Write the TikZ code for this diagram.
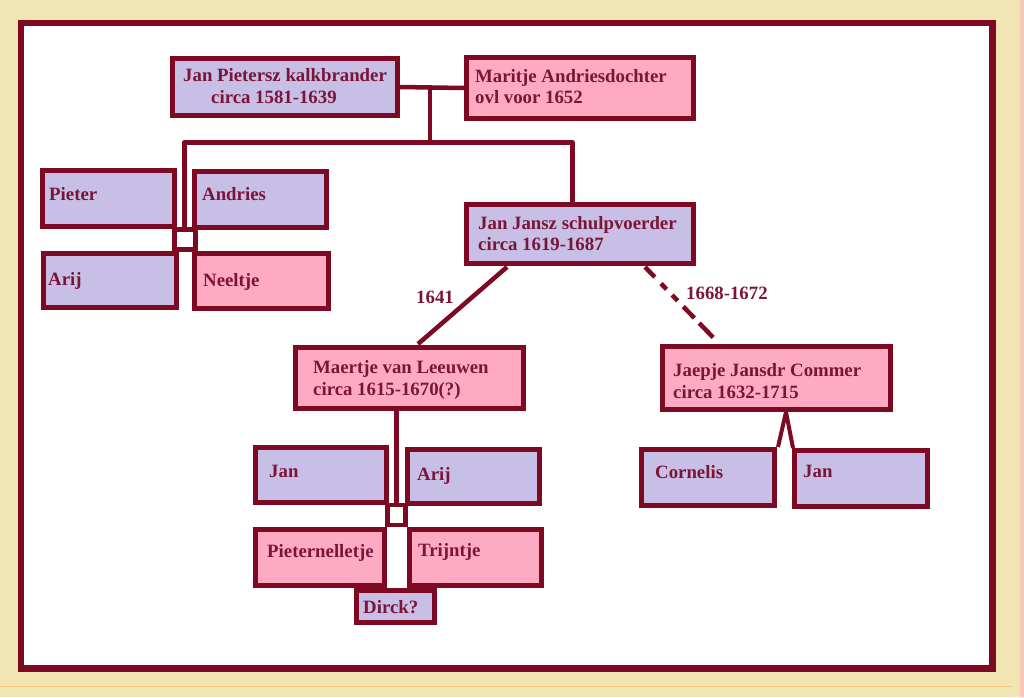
\documentclass[tikz,border=0pt]{standalone}
\usepackage{fontspec}
\setmainfont{Liberation Serif}
\definecolor{cream}{HTML}{F1E5B3}
\definecolor{framec}{HTML}{7D0922}
\definecolor{lav}{HTML}{C7BFE5}
\definecolor{pnk}{HTML}{FFAAC3}
\definecolor{txt}{HTML}{7A1537}
\begin{document}
\begin{tikzpicture}[x=1pt,y=-1pt,
  box/.style={draw=framec, line width=5pt, inner sep=0pt},
  lavbox/.style={box, fill=lav},
  pinkbox/.style={box, fill=pnk},
  sqbox/.style={draw=framec, line width=4.5pt, inner sep=0pt, fill=white},
  lbl/.style={anchor=base west, inner sep=0pt, text=txt, font=\fontsize{18.8}{22}\selectfont\bfseries},
  conn/.style={draw=framec, line width=4.5pt},
  thinconn/.style={draw=framec, line width=4pt}
]
\useasboundingbox (0,0) rectangle (1024,697);
\fill[cream] (0,0) rectangle (1024,697);
\fill[pnk!50!cream] (1020,0) rectangle (1024,697);
\draw[orange!30!cream, line width=1pt] (0,686) -- (1012,686);
\draw[framec, fill=white, line width=6.5pt] (21,23) rectangle (992.5,668.5);

% connector points
\coordinate (c1) at (430,88);
\coordinate (c2) at (430,142.5);
\coordinate (c3) at (184.5,142.5);
\coordinate (c4) at (572.5,142.5);

% boxes
\node[lavbox, minimum width=225pt, minimum height=57pt] (jp) at (285,87) {};
\node[pinkbox, minimum width=227pt, minimum height=61pt] (ma) at (580,88) {};
\node[lavbox, minimum width=132pt, minimum height=56pt] (pi) at (108.5,198.5) {};
\node[lavbox, minimum width=132pt, minimum height=56pt] (an) at (260.5,199.5) {};
\node[sqbox, minimum width=21pt, minimum height=20pt] (sq1) at (185,239.5) {};
\node[lavbox, minimum width=133pt, minimum height=54pt] (ar) at (110,280.5) {};
\node[pinkbox, minimum width=134pt, minimum height=55pt] (ne) at (261.5,281) {};
\node[lavbox, minimum width=227pt, minimum height=59pt] (jj) at (580,234) {};
\node[pinkbox, minimum width=228pt, minimum height=61pt] (mv) at (409.5,378) {};
\node[sqbox, minimum width=18pt, minimum height=20pt] (sq2) at (396.5,515) {};
\node[lavbox, minimum width=131pt, minimum height=55pt] (j2) at (321,475) {};
\node[lavbox, minimum width=132pt, minimum height=54pt] (a2) at (473.5,476.5) {};
\node[pinkbox, minimum width=129pt, minimum height=56pt] (pn) at (320,557.5) {};
\node[pinkbox, minimum width=132pt, minimum height=56pt] (tr) at (475.5,557.5) {};
\node[lavbox, minimum width=78pt, minimum height=32pt] (di) at (395.5,606.5) {};
\node[pinkbox, minimum width=228pt, minimum height=63pt] (jc) at (776.5,378) {};
\node[lavbox, minimum width=133pt, minimum height=56pt] (co) at (708,477.5) {};
\node[lavbox, minimum width=133pt, minimum height=56pt] (j3) at (861,478.5) {};

% connectors
\draw[conn] (jp.east) -- (ma.west);
\draw[conn] (c1) -- (c2);
\draw[conn, line join=round] (c3 |- sq1.north) -- (c3) -- (c4) -- (c4 |- jj.north);
\draw[conn] (mv.south -| sq2.north) -- (sq2.north);
\draw[conn] ([xshift=-73pt,yshift=-1pt]jj.south) -- ([xshift=8.5pt,yshift=1pt]mv.north);
\draw[conn, dash pattern=on 14pt off 9pt on 8pt off 8pt on 8pt off 8pt on 16pt off 7pt on 20pt] ([xshift=65pt,yshift=-1pt]jj.south) -- ([xshift=-58pt,yshift=1pt]jc.north);
\draw[thinconn] ([xshift=9.5pt]jc.south) -- ([xshift=1pt]co.north east);
\draw[thinconn] ([xshift=9.5pt]jc.south) -- ([xshift=1pt]j3.north west);

% labels
\node[lbl] (t1) at (183,81) {Jan Pietersz kalkbrander};
\node[lbl] (t2) at (211,103) {circa 1581-1639};
\node[lbl] (t3) at (475,82) {Maritje Andriesdochter};
\node[lbl] (t4) at (475,103) {ovl voor 1652};
\node[lbl] (t5) at (49,200) {Pieter};
\node[lbl] (t6) at (202,200) {Andries};
\node[lbl] (t7) at (48,285) {Arij};
\node[lbl] (t8) at (203,286) {Neeltje};
\node[lbl] (t9) at (478,229) {Jan Jansz schulpvoerder};
\node[lbl] (t10) at (478,250) {circa 1619-1687};
\node[lbl] (t11) at (416,303) {1641};
\node[lbl] (t12) at (686,299) {1668-1672};
\node[lbl] (t13) at (313,373) {Maertje van Leeuwen};
\node[lbl] (t14) at (313,395) {circa 1615-1670(?)};
\node[lbl] (t15) at (269,477) {Jan};
\node[lbl] (t16) at (417,480) {Arij};
\node[lbl] (t17) at (267,557) {Pieternelletje};
\node[lbl] (t18) at (418,556) {Trijntje};
\node[lbl] (t19) at (363,613) {Dirck?};
\node[lbl] (t20) at (673,376) {Jaepje Jansdr Commer};
\node[lbl] (t21) at (673,398) {circa 1632-1715};
\node[lbl] (t22) at (655,478) {Cornelis};
\node[lbl] (t23) at (803,477) {Jan};
\end{tikzpicture}
\end{document}
